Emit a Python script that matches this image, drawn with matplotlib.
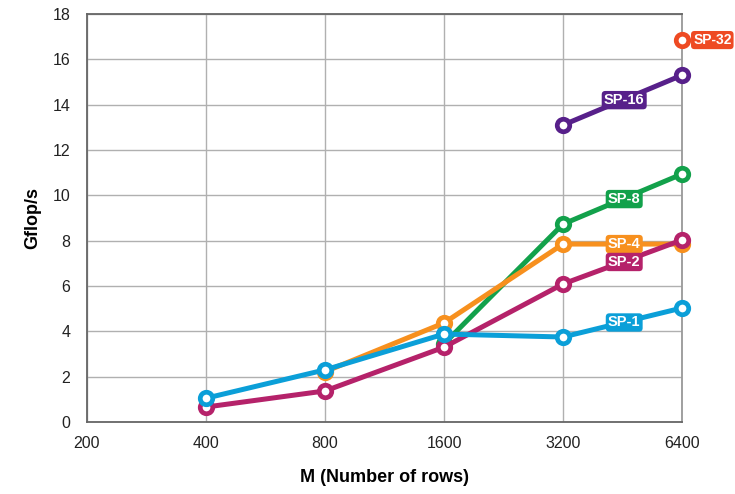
import matplotlib
matplotlib.use("Agg")
import matplotlib.pyplot as plt
import numpy as np

plt.rcParams['font.family'] = ['Liberation Sans', 'DejaVu Sans']

x_ticks = [200, 400, 800, 1600, 3200, 6400]
y_ticks = [0, 2, 4, 6, 8, 10, 12, 14, 16, 18]

sp1_x = [400, 800, 1600, 3200, 6400]
sp1_y = [1.05, 2.30, 3.88, 3.75, 5.03]
sp2_x = [400, 800, 1600, 3200, 6400]
sp2_y = [0.66, 1.37, 3.30, 6.09, 8.03]
sp4_x = [800, 1600, 3200, 6400]
sp4_y = [2.22, 4.37, 7.85, 7.85]
sp8_x = [1600, 3200, 6400]
sp8_y = [3.45, 8.73, 10.94]
sp16_x = [3200, 6400]
sp16_y = [13.10, 15.30]
sp32_x = [6400]
sp32_y = [16.85]

series = [
    ("SP-8", sp8_x, sp8_y, "#12a14b"),
    ("SP-4", sp4_x, sp4_y, "#f7901e"),
    ("SP-2", sp2_x, sp2_y, "#b5226a"),
    ("SP-1", sp1_x, sp1_y, "#0b9fd8"),
    ("SP-16", sp16_x, sp16_y, "#57208a"),
    ("SP-32", sp32_x, sp32_y, "#ee4a23"),
]

fig = plt.figure(figsize=(7.35, 4.94), dpi=100)
ax = fig.add_axes([87/735, 1-422/494, (682-87)/735, (422-14)/494])
ax.set_xscale('log', base=2)
ax.set_xlim(200, 6400)
ax.set_ylim(0, 18)
ax.set_xticks(x_ticks)
ax.set_xticklabels([str(v) for v in x_ticks])
ax.set_yticks(y_ticks)
ax.set_yticklabels([str(v) for v in y_ticks])
ax.minorticks_off()
ax.tick_params(length=0, labelsize=11.5, colors='#222222', pad=10)
ax.tick_params(axis='y', pad=12)
ax.grid(True, color='#b0b0b0', linewidth=1)
ax.set_axisbelow(True)
for s in ax.spines.values():
    s.set_color('#666666')
    s.set_linewidth(1.3)
ax.spines['right'].set_color('#999999')

bbox_style = 'round,pad=0.15,rounding_size=0.25'
for name, xs, ys, col in series:
    ax.plot(xs, ys, color=col, linewidth=3.6, marker='o', markersize=9,
            markerfacecolor='white', markeredgecolor=col, markeredgewidth=3.4,
            solid_capstyle='round', clip_on=False, zorder=3)
    if len(xs) >= 2:
        lx = np.sqrt(xs[-2] * xs[-1]) * 1.01
        ly = (ys[-2] + ys[-1]) / 2
        ax.text(lx, ly, name, color='white', fontsize=10.5, fontweight='bold',
                ha='center', va='center', zorder=5,
                bbox=dict(boxstyle=bbox_style, fc=col, ec='none'))
    else:
        ax.annotate(name, (xs[0], ys[0]), xytext=(8, 0), textcoords='offset points',
                    color='white', fontsize=10, fontweight='bold', ha='left', va='center',
                    zorder=5, annotation_clip=False,
                    bbox=dict(boxstyle=bbox_style, fc=col, ec='none'))

ax.set_xlabel("M (Number of rows)", fontsize=13, fontweight='bold', labelpad=13)
ax.set_ylabel("Gflop/s", fontsize=13, fontweight='bold', labelpad=8)

fig.savefig("out.png", dpi=100)
